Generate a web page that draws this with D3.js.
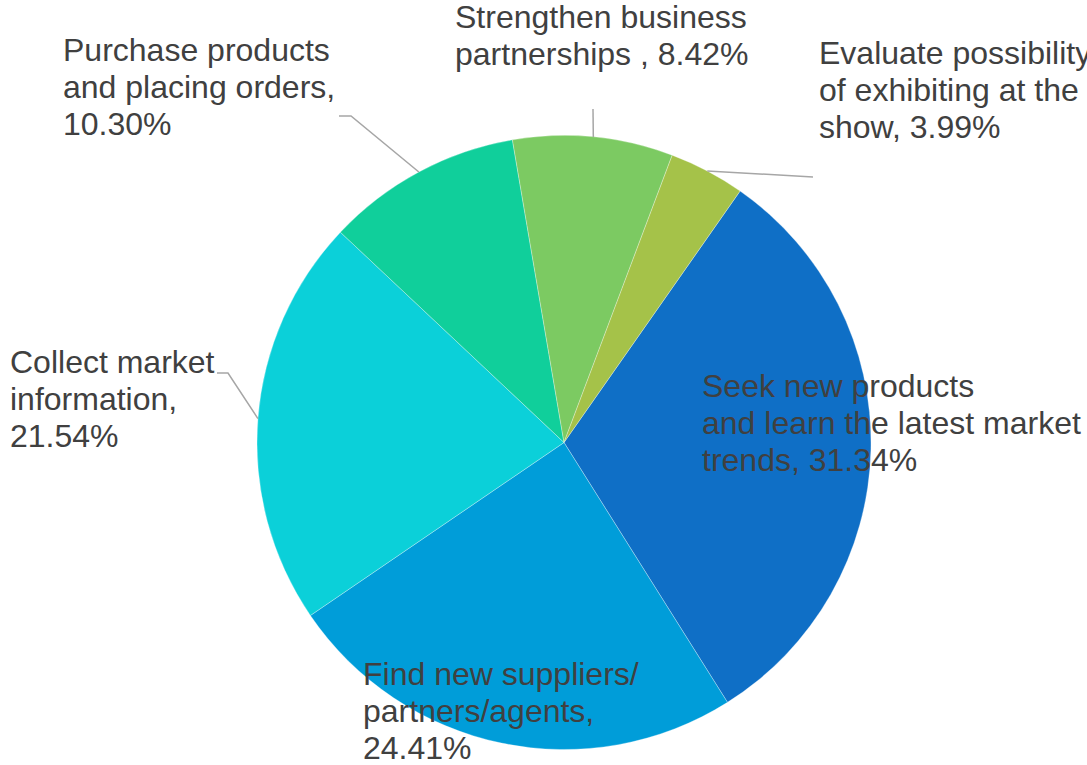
<!DOCTYPE html>
<html>
<head>
<meta charset="utf-8">
<script src="https://cdn.jsdelivr.net/npm/d3@7"></script>
<style>
    html, body { margin: 0; padding: 0; background: #fff; overflow: hidden; }
    text { font-family: "Liberation Sans", Arial, sans-serif; }
</style>
</head>
<body>
<script>
// data, in the order the slices go round (clockwise)
const categories = [
    'Seek new products and learn the latest market trends',
    'Find new suppliers/ partners/agents',
    'Collect market information',
    'Purchase products and placing orders',
    'Strengthen business partnerships ',
    'Evaluate possibility of exhibiting at the show'
];
const shares = [31.34, 24.41, 21.54, 10.30, 8.42, 3.99];
const colors = ['#0F6FC6', '#009DD9', '#0BD0D9', '#10CF9B', '#7CCA62', '#A5C249'];

// label text lines as they wrap in the picture
const labelLines = [
    ['Seek new products', 'and learn the latest market', 'trends, 31.34%'],
    ['Find new suppliers/', 'partners/agents,', '24.41%'],
    ['Collect market', 'information,', '21.54%'],
    ['Purchase products', 'and placing orders,', '10.30%'],
    ['Strengthen business', 'partnerships , 8.42%'],
    ['Evaluate possibility', 'of exhibiting at the', 'show, 3.99%']
];

const width = 1087;
const height = 765;
const cx = 564, cy = 442.5, radius = 307;
const FONT_SIZE = 32;
const LINE_HEIGHT = 37;
const START = 35 * Math.PI / 180;   // first slice angle

// where each label block sits (x of left edge, first baseline) and its leader elbow
const labelLayout = [
    { x: 702, y: 397 },
    { x: 363, y: 685 },
    { x: 10, y: 373, elbow: [228, 373], end: [217, 373] },
    { x: 63, y: 61, elbow: [351, 116], end: [339, 116] },
    { x: 455, y: 28, elbow: [593, 109] },
    { x: 819, y: 64, elbow: [813, 177] }
];

const svg = d3.select('body').append('svg')
    .attr('width', width)
    .attr('height', height);

const pie = d3.pie().sort(null)
    .startAngle(START)
    .endAngle(START + 2 * Math.PI);
const arc = d3.arc().innerRadius(0).outerRadius(radius);

const arcs = pie(shares);

const g = svg.append('g').attr('transform', `translate(${cx},${cy})`);
g.selectAll('path').data(arcs).enter()
    .append('path')
    .attr('d', arc)
    .attr('fill', (d, i) => colors[i])
    .attr('stroke', '#ffffff')
    .attr('stroke-opacity', 0.5)
    .attr('stroke-width', 0.6);

// leader lines from the middle of the slice edge
arcs.forEach((d, i) => {
    const lay = labelLayout[i];
    if (!lay.elbow) return;
    const mid = (d.startAngle + d.endAngle) / 2;
    const pts = [[cx + radius * Math.sin(mid), cy - radius * Math.cos(mid)], lay.elbow];
    if (lay.end) pts.push(lay.end);
    svg.append('path')
        .attr('d', d3.line()(pts))
        .attr('fill', 'none')
        .attr('stroke', '#A6A6A6')
        .attr('stroke-width', 1.5);
});

// labels
labelLines.forEach((lines, i) => {
    const lay = labelLayout[i];
    const t = svg.append('text')
        .attr('x', lay.x)
        .attr('y', lay.y)
        .attr('font-size', FONT_SIZE)
        .attr('fill', '#404040');
    lines.forEach((line, k) => {
        t.append('tspan')
            .attr('x', lay.x)
            .attr('y', lay.y + k * LINE_HEIGHT)
            .text(line);
    });
});
</script>
</body>
</html>
